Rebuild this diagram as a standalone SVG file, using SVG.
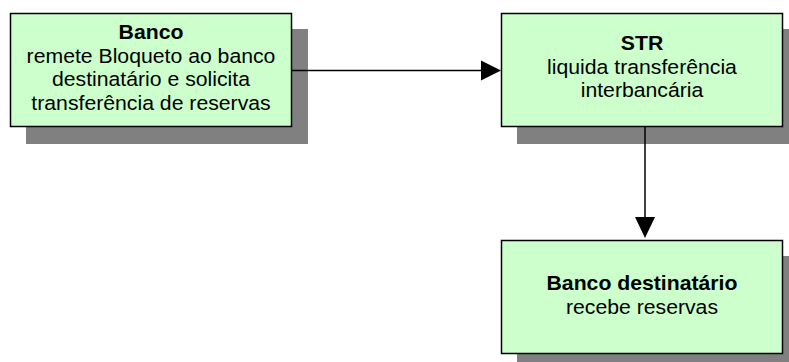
<svg xmlns="http://www.w3.org/2000/svg" width="789" height="362" viewBox="0 0 789 362">
<defs>
<style>
.shadow{fill:#808080;stroke:none}
.box{fill:#CCFFCC;stroke:#000;stroke-width:1.5}
.t{font-family:"Liberation Sans",Arial,sans-serif;font-size:19.3px;fill:#000;text-anchor:middle}
.b{font-weight:bold}
.line{stroke:#000;stroke-width:1.5;fill:none}
.head{fill:#000;stroke:none}
</style>
</defs>
<rect width="789" height="362" fill="#fff"/>
<g id="node-banco">
<rect class="shadow" x="26" y="29" width="282" height="115"/>
<rect class="box" x="10.5" y="13.5" width="281" height="113"/>
<g transform="translate(151,0) scale(1.1,1)">
<text class="t b" x="0" y="39.5">Banco</text>
<text class="t" x="0" y="63">remete Bloqueto ao banco</text>
<text class="t" x="0" y="86.3">destinatário e solicita</text>
<text class="t" x="0" y="109.6">transferência de reservas</text>
</g>
</g>
<g id="node-str">
<rect class="shadow" x="517" y="29" width="282" height="115"/>
<rect class="box" x="501.5" y="13.5" width="281" height="113"/>
<g transform="translate(642,0) scale(1.1,1)">
<text class="t b" x="0" y="50.3">STR</text>
<text class="t" x="0" y="73.6">liquida transferência</text>
<text class="t" x="0" y="96.9">interbancária</text>
</g>
</g>
<g id="node-destino">
<rect class="shadow" x="517" y="256" width="282" height="115"/>
<rect class="box" x="501.5" y="240.5" width="281" height="113"/>
<g transform="translate(642,0) scale(1.1,1)">
<text class="t b" x="0" y="290.3">Banco destinatário</text>
<text class="t" x="0" y="313.6">recebe reservas</text>
</g>
</g>
<g id="connectors">
<line class="line" x1="292" y1="70.5" x2="482" y2="70.5"/>
<polygon class="head" points="481,60.5 501,70.5 481,80.5"/>
<line class="line" x1="645" y1="127" x2="645" y2="218"/>
<polygon class="head" points="635,217 645,238 655,217"/>
</g>
</svg>
